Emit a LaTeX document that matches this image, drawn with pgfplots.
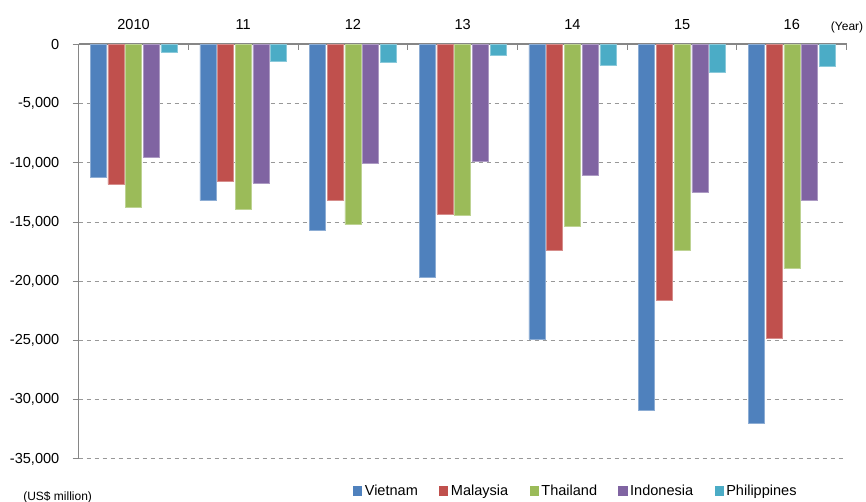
\documentclass[border=0pt]{standalone}
\usepackage{fontspec}
\setmainfont{Liberation Sans}
\usepackage{pgfplots}
\usepackage{pgfplotstable}
\pgfplotsset{compat=1.18}

\definecolor{cVN}{HTML}{4F81BD}
\definecolor{cMY}{HTML}{C0504D}
\definecolor{cTH}{HTML}{9BBB59}
\definecolor{cID}{HTML}{8064A2}
\definecolor{cPH}{HTML}{4BACC6}
\definecolor{axgray}{HTML}{868686}

% Trade balance with China, US$ million (x: 0 = 2010 ... 6 = 2016)
\pgfplotstableread{
x  VN      MY      TH      ID      PH
0  -11190  -11810  -13720  -9530   -630
1  -13190  -11530  -13920  -11690  -1450
2  -15680  -13150  -15180  -10040  -1500
3  -19630  -14330  -14400  -9820   -920
4  -24870  -17370  -15340  -11040  -1760
5  -30920  -21630  -17370  -12480  -2350
6  -31990  -24780  -18930  -13190  -1840
}\tradedata

\begin{document}
\begin{tikzpicture}
\path[use as bounding box] (0,0) rectangle (649.5pt,376.5pt);
\begin{axis}[
  at={(59.0pt,32.25pt)}, anchor=south west,
  scale only axis, width=576pt, height=310.9pt,
  xmin=-0.5, xmax=6.5, ymin=-35000, ymax=0,
  axis x line*=top, axis y line*=left,
  x axis line style={draw=axgray, line width=1.5pt},
  y axis line style={draw=axgray, line width=0.75pt},
  ybar=1.3pt, bar width=12pt,
  xtick={0,...,6},
  xticklabels={2010,11,12,13,14,15,16},
  xtick style={draw=none},
  xticklabel style={yshift=3pt},
  scaled y ticks=false,
  ytick={-35000,-30000,-25000,-20000,-15000,-10000,-5000,0},
  yticklabels={{-35,000},{-30,000},{-25,000},{-20,000},{-15,000},{-10,000},{-5,000},0},
  tick align=outside, major tick length=4.5pt,
  ytick style={draw=axgray, line width=0.75pt},
  yticklabel style={xshift=-6.5pt},
  ymajorgrids,
  grid style={draw=axgray!85, dash pattern=on 3.6pt off 2.4pt, line width=0.75pt},
  tick label style={font=\fontsize{10.9}{13}\selectfont},
  legend columns=5,
  legend style={at={(0.357,-0.0772)}, anchor=west, draw=none, fill=none,
    inner sep=0pt, font=\fontsize{10.9}{13}\selectfont,
    /tikz/every even column/.append style={column sep=14pt}},
  legend image code/.code={\fill[#1,draw=none] (0pt,-3.4pt) rectangle (6.8pt,3.4pt);},
  clip=false,
]
\addplot[fill=cVN, draw=cVN!65!white, line width=0.4pt] table[x=x,y=VN] {\tradedata};
\addlegendentry{Vietnam}
\addplot[fill=cMY, draw=cMY!65!white, line width=0.4pt] table[x=x,y=MY] {\tradedata};
\addlegendentry{Malaysia}
\addplot[fill=cTH, draw=cTH!65!white, line width=0.4pt] table[x=x,y=TH] {\tradedata};
\addlegendentry{Thailand}
\addplot[fill=cID, draw=cID!65!white, line width=0.4pt] table[x=x,y=ID] {\tradedata};
\addlegendentry{Indonesia}
\addplot[fill=cPH, draw=cPH!65!white, line width=0.4pt] table[x=x,y=PH] {\tradedata};
\addlegendentry{Philippines}
% small separators between year groups, hanging below the top axis line
\pgfplotsinvokeforeach{-0.5,0.5,1.5,2.5,3.5,4.5,5.5,6.5}{
  \draw[axgray, line width=0.75pt] (axis cs:#1,0) -- ([yshift=-4.5pt]axis cs:#1,0);
}
\end{axis}
\node[anchor=west, inner sep=0pt, font=\fontsize{9}{11}\selectfont] at (623pt,356.25pt) {(Year)};
\node[anchor=west, inner sep=0pt, font=\fontsize{9}{11}\selectfont] at (17.25pt,3.75pt) {(US\$ million)};
\end{tikzpicture}
\end{document}
